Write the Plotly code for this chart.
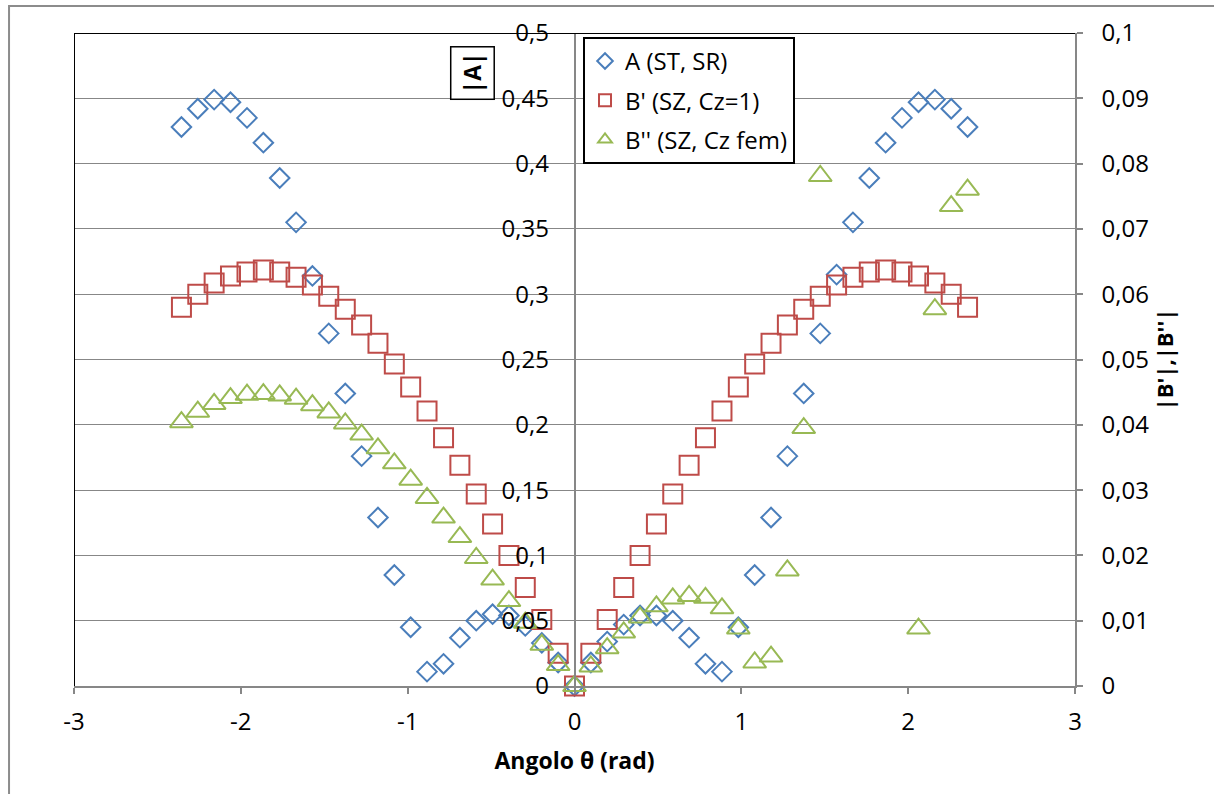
import plotly.graph_objects as go

# Angle samples (rad)
theta = [-2.356, -2.258, -2.160, -2.062, -1.963, -1.865, -1.767, -1.669, -1.571,
         -1.473, -1.374, -1.276, -1.178, -1.080, -0.982, -0.884, -0.785, -0.687,
         -0.589, -0.491, -0.393, -0.295, -0.196, -0.098, 0.0, 0.098, 0.196, 0.295,
         0.393, 0.491, 0.589, 0.687, 0.785, 0.884, 0.982, 1.080, 1.178, 1.276,
         1.374, 1.473, 1.571, 1.669, 1.767, 1.865, 1.963, 2.062, 2.160, 2.258, 2.356]

# |A| (left axis)
a_st_sr = [0.428, 0.442, 0.449, 0.447, 0.435, 0.416, 0.389, 0.355, 0.314,
           0.270, 0.224, 0.176, 0.129, 0.085, 0.045, 0.011, 0.017, 0.037,
           0.050, 0.055, 0.054, 0.046, 0.033, 0.018, 0.0, 0.018, 0.034, 0.047,
           0.054, 0.054, 0.050, 0.037, 0.017, 0.011, 0.045, 0.085, 0.129, 0.176,
           0.224, 0.270, 0.315, 0.355, 0.389, 0.416, 0.435, 0.447, 0.449, 0.442, 0.428]

# |B'| (right axis)
b1_cz1 = [0.0580, 0.0600, 0.0617, 0.0628, 0.0634, 0.0637, 0.0634, 0.0626, 0.0614,
          0.0597, 0.0577, 0.0553, 0.0525, 0.0493, 0.0458, 0.0421, 0.0380, 0.0338,
          0.0294, 0.0248, 0.0200, 0.0151, 0.0102, 0.0050, 0.0, 0.0050, 0.0102, 0.0151,
          0.0200, 0.0248, 0.0294, 0.0338, 0.0380, 0.0421, 0.0458, 0.0493, 0.0525, 0.0553,
          0.0577, 0.0597, 0.0614, 0.0626, 0.0634, 0.0637, 0.0634, 0.0628, 0.0617, 0.0600, 0.0580]

# |B''| (right axis); None where no value is plotted
b2_czfem = [0.0404, 0.0420, 0.0432, 0.0441, 0.0446, 0.0447, 0.0445, 0.0440, 0.0430,
            0.0419, 0.0402, 0.0385, 0.0364, 0.0341, 0.0316, 0.0288, 0.0258, 0.0228,
            0.0196, 0.0163, 0.0130, 0.0097, 0.0063, 0.0032, 0.0, 0.0030, 0.0058, 0.0082,
            0.0105, 0.0122, 0.0134, 0.0138, 0.0135, 0.0119, 0.0088, 0.0036, 0.0045, 0.0177,
            0.0395, 0.0781, None, None, None, None, None, 0.0088, 0.0577, 0.0735, 0.0760]

x_ticks = [-3, -2, -1, 0, 1, 2, 3]
x_tick_text = ["-3", "-2", "-1", "0", "1", "2", "3"]
y1_ticks = [0, 0.05, 0.1, 0.15, 0.2, 0.25, 0.3, 0.35, 0.4, 0.45, 0.5]
y1_tick_text = ["0", "0,05", "0,1", "0,15", "0,2", "0,25", "0,3", "0,35", "0,4", "0,45", "0,5"]
y2_ticks = [0, 0.01, 0.02, 0.03, 0.04, 0.05, 0.06, 0.07, 0.08, 0.09, 0.1]
y2_tick_text = ["0", "0,01", "0,02", "0,03", "0,04", "0,05", "0,06", "0,07", "0,08", "0,09", "0,1"]

FONT = "'Open Sans', 'Noto Sans', sans-serif"
TXT = 24
GRID = "#878787"
BLUE = "#4A7EBB"
RED = "#BE4B48"
GREEN = "#98B954"

fig = go.Figure()
fig.add_trace(go.Scatter(
    x=theta, y=a_st_sr, mode="markers", name="A (ST, SR)", legendgroup="a",
    marker=dict(symbol="diamond-open", size=15, color=BLUE, line=dict(width=2, color=BLUE)),
    cliponaxis=False, yaxis="y"))
fig.add_trace(go.Scatter(
    x=theta, y=b1_cz1, mode="markers", name="B' (SZ, Cz=1)", legendgroup="b",
    marker=dict(symbol="square-open", size=19, color=RED, line=dict(width=2, color=RED)),
    cliponaxis=False, yaxis="y2"))
fig.add_trace(go.Scatter(
    x=theta, y=b2_czfem, mode="markers", name="B'' (SZ, Cz fem)", legendgroup="c",
    marker=dict(symbol="triangle-up-open", size=20, color=GREEN, line=dict(width=2, color=GREEN)),
    cliponaxis=False, yaxis="y2"))

fig.update_layout(
    width=1214, height=794,
    margin=dict(l=74, r=139, t=33, b=108),
    paper_bgcolor="white", plot_bgcolor="white",
    font=dict(family=FONT, size=TXT, color="black"),
    showlegend=True,
    legend=dict(
        x=0.5085, y=0.994, xanchor="left", yanchor="top",
        bordercolor="black", borderwidth=2, bgcolor="white",
        font=dict(family=FONT, size=TXT, color="black"),
        itemsizing="constant", itemwidth=30, tracegroupgap=5, traceorder="grouped",
    ),
    xaxis=dict(
        range=[-3, 3], tickvals=x_ticks, ticktext=x_tick_text,
        showgrid=False, zeroline=False,
        showline=True, linecolor=GRID, linewidth=1.5,
        ticks="outside", ticklen=6, tickcolor=GRID, tickwidth=1.5,
        ticklabelstandoff=7,
        title=dict(text="<b>Angolo θ (rad)</b>", font=dict(family=FONT, size=23), standoff=17),
    ),
    yaxis=dict(
        range=[0, 0.5], tickvals=y1_ticks, ticktext=y1_tick_text,
        anchor="free", position=0.5,
        showgrid=True, gridcolor=GRID, gridwidth=1.2, zeroline=False,
        showline=True, linecolor=GRID, linewidth=1.5,
        ticks="", ticklabelstandoff=20,
    ),
    yaxis2=dict(
        range=[0, 0.1], tickvals=y2_ticks, ticktext=y2_tick_text,
        overlaying="y", side="right", anchor="x",
        showgrid=False, zeroline=False,
        showline=True, linecolor=GRID, linewidth=1.5,
        ticks="outside", ticklen=6, tickcolor=GRID, tickwidth=1.5,
        ticklabelstandoff=14,
        title=dict(text="<b>|B'|,|B''|</b>", font=dict(family=FONT, size=22), standoff=9),
    ),
)

# Plot-area frame (top and left edges in black)
fig.add_shape(type="line", xref="x", yref="y", x0=-3, x1=3, y0=0.5, y1=0.5,
              line=dict(color="black", width=2), layer="above")
fig.add_shape(type="line", xref="x", yref="y", x0=-3, x1=-3, y0=0, y1=0.5,
              line=dict(color="black", width=2), layer="above")

# Chart-area border
fig.add_shape(type="rect", xref="paper", yref="paper",
              x0=-0.0649, x1=1.2, y0=-0.25, y1=1.0413,
              line=dict(color="#8c8c8c", width=2), layer="below")

# Boxed title of the left axis
fig.add_annotation(xref="paper", yref="paper", x=0.3976, y=0.9387,
                   xanchor="center", yanchor="middle",
                   text="<b>|A|</b>", textangle=-90, showarrow=False,
                   font=dict(family=FONT, size=23, color="black"),
                   bordercolor="black", borderwidth=1.5, borderpad=5, bgcolor="white")

fig.write_html("out.html")
